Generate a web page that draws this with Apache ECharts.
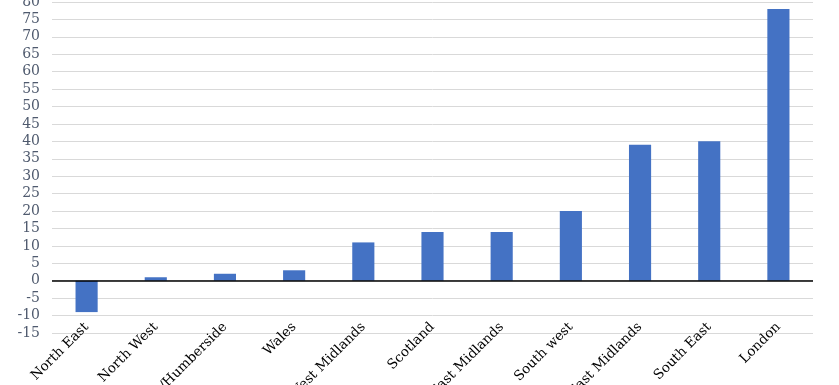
<!DOCTYPE html>
<html><head><meta charset="utf-8">
<script src="https://cdn.jsdelivr.net/npm/echarts@6/dist/echarts.min.js"></script>
<style>html,body{margin:0;padding:0;background:#fff}#c{width:839px;height:385px}</style>
</head><body><div id="c"></div>
<script>
const categories = ["North East","North West","Yorks/Humberside","Wales","West Midlands","Scotland","East Midlands","South west","East Midlands","South East","London"];
const values = [-9, 1, 2, 3, 11, 14, 14, 20, 39, 40, 78];
const yTicks = {min: -15, max: 80, interval: 5};

const chart = echarts.init(document.getElementById('c'), null, {renderer: 'canvas'});
chart.setOption({
  animation: false,
  grid: {left: 52, right: 26, top: 2, bottom: 52, containLabel: false, outerBoundsMode: 'none'},
  xAxis: {
    type: 'category',
    data: categories,
    axisLine: {show: false, onZero: false},
    axisTick: {show: false},
    axisLabel: {rotate: 45, interval: 0, margin: -8, color: '#000', fontFamily: 'DejaVu Serif', fontSize: 13.5, hideOverlap: false}
  },
  yAxis: {
    type: 'value',
    min: yTicks.min, max: yTicks.max, interval: yTicks.interval,
    axisLine: {show: false},
    axisTick: {show: false},
    axisLabel: {color: '#4f5a6e', fontFamily: 'DejaVu Serif', fontSize: 14, margin: 12},
    splitLine: {lineStyle: {color: '#d9d9d9', width: 1}}
  },
  series: [{
    type: 'bar',
    data: values,
    barWidth: '32%',
    itemStyle: {color: '#4472c4'},
    markLine: {
      silent: true,
      symbol: 'none',
      label: {show: false},
      lineStyle: {color: '#000', width: 1.5, type: 'solid'},
      data: [{yAxis: 0}]
    }
  }]
});
</script></body></html>
